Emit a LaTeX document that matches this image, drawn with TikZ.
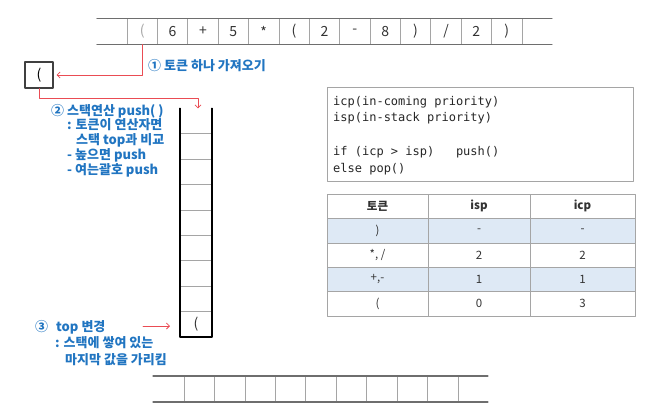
\documentclass[tikz,border=0pt]{standalone}
\usepackage{fontspec}
\setmainfont{Noto Sans CJK KR}
\setmonofont{DejaVu Sans Mono}
\usetikzlibrary{arrows.meta,calc}

\definecolor{markred}{RGB}{234,76,84}
\definecolor{noteblue}{RGB}{33,117,193}
\definecolor{rowblue}{RGB}{222,233,245}
\definecolor{linegray}{RGB}{165,165,165}
\definecolor{railgray}{RGB}{110,110,110}

\tikzset{
  cell/.style={minimum width=30.4pt,minimum height=26pt,inner sep=0pt,outer sep=0pt,text=black!80,font=\fontsize{14}{14}\selectfont},
  slot/.style={minimum width=32pt,minimum height=25.4pt,inner sep=0pt,outer sep=0pt,text=black!80,font=\fontsize{14}{14}\selectfont},
  divider/.style={draw=linegray,line width=0.7pt},
  rail/.style={draw=railgray,line width=1.2pt},
  tcell/.style={draw=linegray,line width=0.6pt,minimum height=24.4pt,inner sep=0pt,outer sep=0pt,text=black!80,font=\fontsize{11.5}{11.5}\selectfont},
  redarrow/.style={draw=markred,line width=0.8pt,-{Straight Barb[length=3pt,width=6pt]}},
  note/.style={anchor=base west,align=left,inner sep=0pt,text=noteblue,font=\bfseries\fontsize{13}{14.7}\selectfont}
}

\begin{document}
\begin{tikzpicture}[line cap=round,line join=round,x=1pt,y=-1pt]
\useasboundingbox (0,0) rectangle (650,415);

% input tokens
\foreach \tok [count=\i] in {{\textcolor{black!35}{(}},6,+,5,*,{(},2,-,8,{)},/,2,{)}}
  \node[cell] (t\i) at ({127+30.38*(\i-0.5)},31.5) {\tok};
\foreach \i in {1,...,13}
  \draw[divider] (t\i.north west) -- (t\i.south west);
\draw[divider] (t13.north east) -- (t13.south east);
\draw[rail] ($(t1.north west)+(-30,0)$) -- ($(t13.north east)+(30,0)$);
\draw[rail] ($(t1.south west)+(-30,0)$) -- ($(t13.south east)+(30,0)$);

% token read
\node[draw=black!75,line width=1.1pt,minimum width=28pt,minimum height=26pt,inner sep=0pt,font=\fontsize{14}{14}\selectfont] (tokbox) at (39,75) {(};
\draw[redarrow,shorten >=3pt] (t1.south) |- (tokbox.east);
\node[note] (note1) at (148,70) {① 토큰 하나 가져오기};

% stack
\node[slot] (s1) at (196,{337-25.4*0.5}) {(};
\foreach \i in {2,...,9}
  \node[slot] (s\i) at (196,{337-25.4*(\i-0.5)}) {};
\foreach \i in {1,...,8}
  \draw[divider] (s\i.north west) -- (s\i.north east);
\draw[line width=1.6pt] (s9.north west) -- (s1.south west) -- (s1.south east) -- (s9.north east);
\draw[redarrow] (tokbox.south) -- ++(0,10) -| ($(s9.north)+(2,0)$);
% base anchor sits on the last line
\node[note] (note2) at (51,174) {② 스택연산 push( )\\
  \hspace*{16pt}: 토큰이 연산자면\\
  \hspace*{25pt}스택 top과 비교\\
  \hspace*{16pt}- 높으면 push\\
  \hspace*{16pt}- 여는괄호 push};

% top pointer
\coordinate (topptr) at (143,326);
\draw[redarrow,shorten >=10pt] (topptr) -- (topptr -| s1.west);
\node[note,font=\bfseries\fontsize{13}{16.5}\selectfont] (note3) at (35,364) {③\hspace{8pt}top 변경\\
  \hspace*{20pt}: 스택에 쌓여 있는\\
  \hspace*{30pt}마지막 값을 가리킴};

% priority rule
\node[draw=linegray,line width=0.7pt,minimum width=306pt,minimum height=94pt,anchor=north west] (codebox) at (327,87) {};
\node[anchor=base west,align=left,inner sep=0pt,text=black!85,font=\ttfamily\fontsize{12}{16.8}\selectfont] (code) at (333,172.2) {icp(in-coming priority)\\
  isp(in-stack priority)\\
  ~\\
  if (icp > isp)\ \ \ push()\\
  else pop()};

% priority table
\foreach \r/\tok/\isp/\icp/\fc in {0/\textbf{토큰}/\textbf{isp}/\textbf{icp}/white,1/{)}/-/-/rowblue,2/{*, /}/2/2/white,3/{+,-}/1/1/rowblue,4/{(}/0/3/white}{
  \node[tcell,fill=\fc,minimum width=101pt] (tk\r) at (377.5,{206.2+24.4*\r}) {\tok};
  \node[tcell,fill=\fc,minimum width=102pt,anchor=west] (is\r) at (tk\r.east) {\isp};
  \node[tcell,fill=\fc,minimum width=105pt,anchor=west] (ic\r) at (is\r.east) {\icp};
}

% output
\foreach \i in {1,...,9}
  \node[cell] (b\i) at ({184+30.44*(\i-0.5)},389) {};
\foreach \i in {1,...,9}
  \draw[divider] (b\i.north west) -- (b\i.south west);
\draw[divider] (b9.north east) -- (b9.south east);
\draw[rail] ($(b1.north west)+(-31,0)$) -- ($(b9.north east)+(30,0)$);
\draw[rail] ($(b1.south west)+(-31,0)$) -- ($(b9.south east)+(30,0)$);
\end{tikzpicture}
\end{document}
